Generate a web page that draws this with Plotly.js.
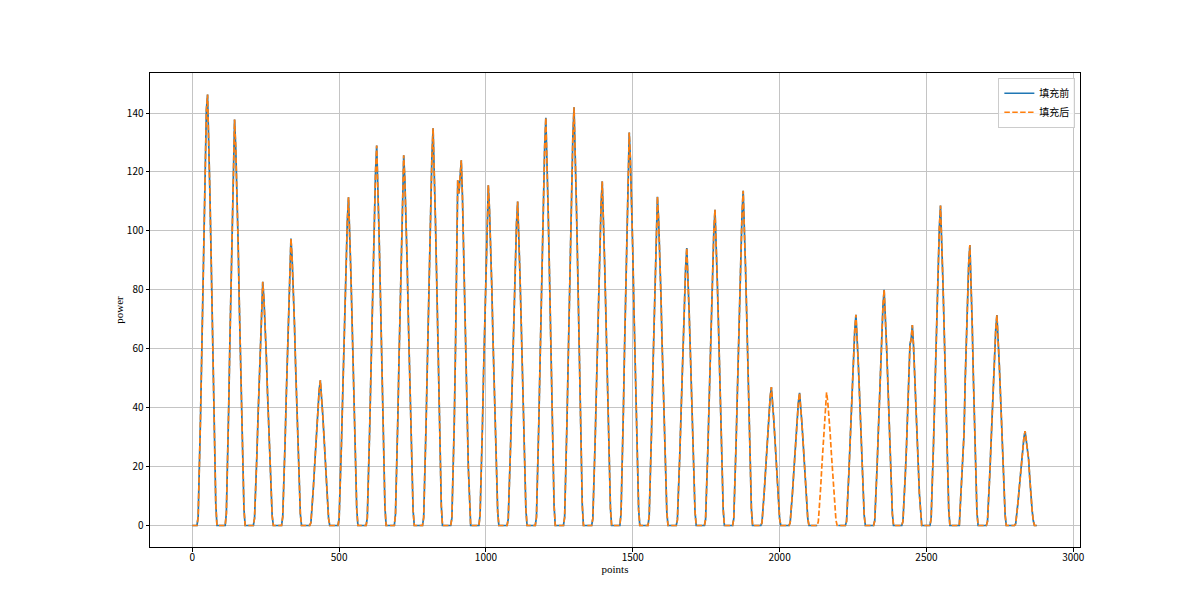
<!DOCTYPE html>
<html>
<head>
<meta charset="utf-8">
<script src="https://cdn.plot.ly/plotly-3.0.1.min.js"></script>
<style>html,body{margin:0;padding:0;background:#fff;}#chart{width:1200px;height:614px;}</style>
</head>
<body>
<div id="chart"></div>
<script>
// Power readings, one row per day, sampled every 4 points (hours 0..23); null = missing reading
const d01 = [0,0,0,0,0, 2.9,17.6,36.6,57.1,79.0,99.5,118.5,141.0,146.3,131.7,112.7,92.2,68.8,45.4,23.4,7.3, 0,0,0];
const d02 = [0,0,0,0,0, 4.1,19.3,40.0,62.0,84.1,104.7,124.0,137.8,128.2,114.4,96.5,75.8,55.1,34.5,16.5,5.5, 0,0,0];
const d03 = [0,0,0,0,0, 2.5,11.6,24.0,37.2,50.4,62.9,74.4,82.7,76.9,68.6,57.9,45.5,33.1,20.7,9.9,3.3, 0,0,0];
const d04 = [0,0,0,0,0, 2.9,13.6,28.2,43.8,59.4,74.0,87.7,97.4,90.6,80.8,68.2,53.6,39.0,24.4,11.7,3.9, 0,0,0];
const d05 = [0,0,0,0,0, 1.0,5.9,12.3,19.2,26.6,33.5,39.9,45.8,49.3,44.4,38.0,31.1,23.2,15.3,7.9,2.5, 0,0,0];
const d06 = [0,0,0,0,0, 2.2,13.4,27.9,43.4,60.2,75.8,90.2,103.6,111.4,100.3,85.8,70.2,52.4,34.5,17.8,5.6, 0,0,0];
const d07 = [0,0,0,0,0, 2.6,15.5,32.3,50.3,69.7,87.7,104.5,120.0,129.0,116.1,99.3,81.3,60.6,40.0,20.6,6.5, 0,0,0];
const d08 = [0,0,0,0,0, 3.8,17.6,36.5,56.6,76.7,95.5,113.1,125.7,116.9,104.3,88.0,69.1,50.3,31.4,15.1,5.0, 0,0,0];
const d09 = [0,0,0,0,0, 2.7,16.2,33.7,52.6,72.8,91.7,109.2,125.4,134.8,121.3,103.8,84.9,63.4,41.8,21.6,6.7, 0,0,0];
const d10 = [0,0,0,0,0, 2.5,15.0,34.0,58.0,88.0,117.2,112.7,120.5,124.0,111.6,95.5,78.1,58.3,38.4,19.8,6.2, 0,0,0];
const d11 = [0,0,0,0,0, 3.5,16.2,33.5,52.0,70.5,87.8,104.0,115.5,107.4,95.9,80.9,63.5,46.2,28.9,13.9,4.6, 0,0,0];
const d12 = [0,0,0,0,0, 2.2,13.2,27.5,42.9,59.4,74.8,89.1,102.3,110.0,99.0,84.7,69.3,51.7,34.1,17.6,5.5, 0,0,0];
const d13 = [0,0,0,0,0, 2.8,16.6,34.6,54.0,74.7,94.1,112.1,128.7,138.4,124.6,106.6,87.2,65.0,42.9,22.1,6.9, 0,0,0];
const d14 = [0,0,0,0,0, 2.8,17.0,35.5,55.4,76.7,96.6,115.0,132.1,142.0,127.8,109.3,89.5,66.7,44.0,22.7,7.1, 0,0,0];
const d15 = [0,0,0,0,0, 2.3,14.0,29.2,45.6,63.1,79.4,94.6,108.6,116.8,105.1,89.9,73.6,54.9,36.2,18.7,5.8, 0,0,0];
const d16 = [0,0,0,0,0, 4.0,18.7,38.7,60.0,81.4,101.4,120.1,133.4,124.1,110.7,93.4,73.4,53.4,33.4,16.0,5.3, 0,0,0];
const d17 = [0,0,0,0,0, 3.3,15.6,32.4,50.2,68.1,84.8,100.4,111.6,103.8,92.6,78.1,61.4,44.6,27.9,13.4,4.5, 0,0,0];
const d18 = [0,0,0,0,0, 1.9,11.3,23.6,36.7,50.9,64.1,76.3,87.6,94.2,84.8,72.5,59.3,44.3,29.2,15.1,4.7, 0,0,0];
const d19 = [0,0,0,0,0, 2.1,12.9,26.8,41.8,57.9,72.9,86.8,99.7,107.2,96.5,82.5,67.5,50.4,33.2,17.2,5.4, 0,0,0];
const d20 = [0,0,0,0,0, 2.3,13.6,28.4,44.3,61.3,77.2,92.0,105.6,113.6,102.2,87.5,71.6,53.4,35.2,18.2,5.7, 0,0,0];
const d21 = [0,0,0,0,0, 0.9,5.6,11.8,18.3,25.4,32.0,38.1,43.7,47.0,42.3,36.2,29.6,22.1,14.6,7.5,2.4, 0,0,0];
const d22 = [0,0,0,0,0, 0.9,5.4,11.3,17.6,24.3,30.6,36.5,41.9,45.0,40.5,34.7,28.4,21.2,14.0,7.2,2.3, 0,0,0];
const d23 = [0,0,0,0,0, null,null,null,null,null,null,null,null,null,null,null,null,null,null,null,null, null,0,0];
const d24 = [0,0,0,0,0, 1.4,8.6,17.9,27.9,38.6,48.6,57.9,66.5,71.5,64.4,55.1,45.0,33.6,22.2,11.4,3.6, 0,0,0];
const d25 = [0,0,0,0,0, 1.6,9.6,20.0,31.2,43.2,54.4,64.8,74.4,80.0,72.0,61.6,50.4,37.6,24.8,12.8,4.0, 0,0,0];
const d26 = [0,0,0,0,0, 1.4,8.2,17.0,26.5,36.7,50.0,61.5,63.2,68.0,61.2,52.4,42.8,32.0,21.1,10.9,3.4, 0,0,0];
const d27 = [0,0,0,0,0, 2.2,13.0,27.2,42.4,58.6,73.8,88.0,101.0,108.6,97.7,83.6,68.4,51.0,33.7,17.4,5.4, 0,0,0];
const d28 = [0,0,0,0,0, 0.0,8.0,17.0,20.5,31.0,49.0,65.0,78.0,89.0,95.2,84.0,68.0,50.0,32.0,15.0,4.5, 0,0,0];
const d29 = [0,0,0,0,0, 1.4,8.6,17.9,27.8,38.6,48.6,57.8,66.4,71.4,64.3,55.0,45.0,33.6,22.1,11.4,3.6, 0,0,0];
const d30 = [0,0,0,0,0, 0.6,3.8,8.0,12.5,17.3,21.8,25.9,29.8,32.0,28.8,25.0,22.5,16.0,9.9,5.1,1.6, 0,0,0];

// Values used to fill the missing readings (in order of the nulls)
const filledValues = [1.4,6.3,13.1,20.3,27.6,34.4,40.7,45.2,42.0,37.5,31.6,24.9,18.1,11.3,5.4,1.8,0];

const seriesNames = ['填充前', '填充后'];
const xTicks = [0, 500, 1000, 1500, 2000, 2500, 3000];
const yTicks = [0, 20, 40, 60, 80, 100, 120, 140];
const pointsPerDay = 96;
const sampleStep = 4;

const days = [d01,d02,d03,d04,d05,d06,d07,d08,d09,d10,d11,d12,d13,d14,d15,d16,d17,d18,d19,d20,d21,d22,d23,d24,d25,d26,d27,d28,d29,d30];

const xs = [], before = [], after = [];
let fillIdx = 0;
days.forEach((row, di) => {
  row.forEach((v, hi) => {
    xs.push(di * pointsPerDay + hi * sampleStep);
    before.push(v);
    after.push(v === null ? filledValues[fillIdx++] : v);
  });
});

const tickFont = {family: '"Noto Sans CJK SC", "DejaVu Sans", sans-serif', size: 10, color: '#000'};
const titleFont = {family: '"Liberation Serif", "DejaVu Serif", serif', size: 11, color: '#000'};

const traces = [
  {x: xs, y: before, name: seriesNames[0], type: 'scatter', mode: 'lines', connectgaps: false,
   line: {color: '#1f77b4', width: 1.7}},
  {x: xs, y: after, name: seriesNames[1], type: 'scatter', mode: 'lines',
   line: {color: '#ff7f0e', width: 1.7, dash: '5.5px,2.4px'}}
];

const axisCommon = {
  showline: true, linecolor: '#000', linewidth: 1, mirror: true,
  ticks: 'outside', ticklen: 3.5, tickwidth: 1, tickcolor: '#000',
  showgrid: true, gridcolor: '#c4c4c4', gridwidth: 1, zeroline: false,
  tickfont: tickFont, automargin: false
};

const layout = {
  width: 1200, height: 614,
  margin: {l: 150, r: 120, t: 73, b: 67},
  paper_bgcolor: '#fff', plot_bgcolor: '#fff',
  showlegend: true,
  legend: {x: 0.995, y: 0.99, xanchor: 'right', yanchor: 'top',
    bgcolor: 'rgba(255,255,255,0.8)', bordercolor: '#cccccc', borderwidth: 1,
    font: {family: '"Noto Sans CJK SC", sans-serif', size: 10, color: '#000'},
    itemwidth: 30, tracegroupgap: 0},
  xaxis: Object.assign({}, axisCommon, {range: [-144, 3023], tickvals: xTicks, ticklabelstandoff: -3,
    title: {text: 'points', font: titleFont, standoff: 0}}),
  yaxis: Object.assign({}, axisCommon, {range: [-7.3, 153.6], tickvals: yTicks,
    title: {text: 'power', font: titleFont, standoff: 0}})
};

Plotly.newPlot('chart', traces, layout, {displayModeBar: false, staticPlot: true});
</script>
</body>
</html>
